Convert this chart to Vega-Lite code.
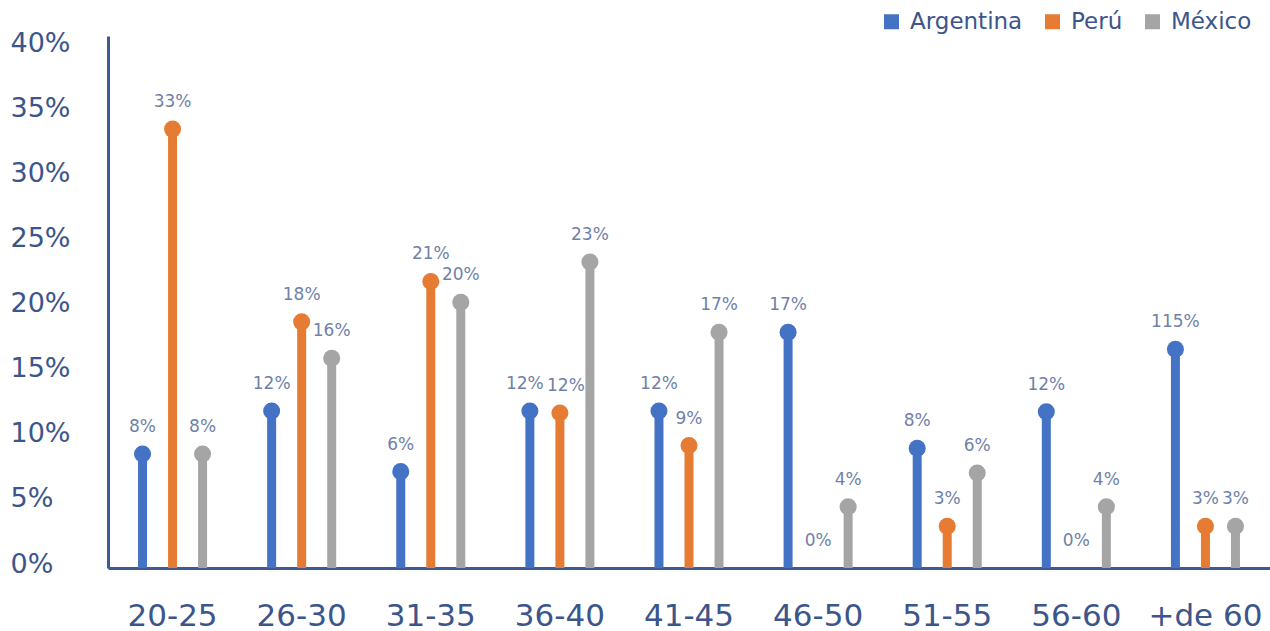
{
  "$schema": "https://vega.github.io/schema/vega-lite/v6.json",
  "autosize": "none",
  "width": 1162,
  "height": 532,
  "padding": {"left": 108, "top": 36, "right": 0, "bottom": 63},
  "background": "white",
  "data": {
    "values": [
      {"age": "20-25", "country": "Argentina", "value": 8.75, "label": "8%"},
      {"age": "20-25", "country": "Perú", "value": 33.7, "label": "33%"},
      {"age": "20-25", "country": "México", "value": 8.75, "label": "8%"},
      {"age": "26-30", "country": "Argentina", "value": 12.05, "label": "12%"},
      {"age": "26-30", "country": "Perú", "value": 18.9, "label": "18%"},
      {"age": "26-30", "country": "México", "value": 16.1, "label": "16%"},
      {"age": "31-35", "country": "Argentina", "value": 7.4, "label": "6%"},
      {"age": "31-35", "country": "Perú", "value": 22.0, "label": "21%"},
      {"age": "31-35", "country": "México", "value": 20.4, "label": "20%"},
      {"age": "36-40", "country": "Argentina", "value": 12.05, "label": "12%"},
      {"age": "36-40", "country": "Perú", "value": 11.9, "label": "12%"},
      {"age": "36-40", "country": "México", "value": 23.5, "label": "23%"},
      {"age": "41-45", "country": "Argentina", "value": 12.05, "label": "12%"},
      {"age": "41-45", "country": "Perú", "value": 9.4, "label": "9%"},
      {"age": "41-45", "country": "México", "value": 18.1, "label": "17%"},
      {"age": "46-50", "country": "Argentina", "value": 18.1, "label": "17%"},
      {"age": "46-50", "country": "Perú", "value": 0, "label": "0%"},
      {"age": "46-50", "country": "México", "value": 4.7, "label": "4%"},
      {"age": "51-55", "country": "Argentina", "value": 9.2, "label": "8%"},
      {"age": "51-55", "country": "Perú", "value": 3.2, "label": "3%"},
      {"age": "51-55", "country": "México", "value": 7.3, "label": "6%"},
      {"age": "56-60", "country": "Argentina", "value": 12.0, "label": "12%"},
      {"age": "56-60", "country": "Perú", "value": 0, "label": "0%"},
      {"age": "56-60", "country": "México", "value": 4.7, "label": "4%"},
      {"age": "+de 60", "country": "Argentina", "value": 16.8, "label": "115%"},
      {"age": "+de 60", "country": "Perú", "value": 3.2, "label": "3%"},
      {"age": "+de 60", "country": "México", "value": 3.2, "label": "3%"}
    ]
  },
  "encoding": {
    "x": {
      "field": "age", "type": "nominal",
      "sort": ["20-25","26-30","31-35","36-40","41-45","46-50","51-55","56-60","+de 60"],
      "scale": {"paddingInner": 0, "paddingOuter": 0},
      "axis": {
        "title": null, "labelAngle": 0, "ticks": false, "tickSize": 0,
        "domainColor": "#3D5A91", "domainWidth": 3,
        "labelFont": "DejaVu Sans", "labelFontSize": 31, "labelColor": "#3C558A",
        "labelBaseline": "middle", "labelPadding": 48
      }
    },
    "xOffset": {
      "field": "country", "type": "nominal",
      "sort": ["Argentina", "Perú", "México"],
      "scale": {"paddingInner": 0, "paddingOuter": 0.65}
    },
    "y": {
      "field": "value", "type": "quantitative",
      "scale": {"domain": [0, 40.85], "nice": false, "zero": true},
      "axis": {
        "title": null, "grid": false, "ticks": false, "tickSize": 0,
        "values": [0, 5, 10, 15, 20, 25, 30, 35, 40],
        "labelExpr": "datum.value + '%'",
        "domainColor": "#3D5A91", "domainWidth": 3,
        "labelFont": "DejaVu Sans", "labelFontSize": 27, "labelColor": "#3C558A",
        "labelAlign": "left", "labelPadding": 98, "labelBaseline": "middle",
        "labelOffset": -4, "labelBound": false
      }
    },
    "color": {
      "field": "country", "type": "nominal",
      "scale": {"domain": ["Argentina", "Perú", "México"], "range": ["#4472C4", "#E67C33", "#A5A5A5"]},
      "legend": {
        "title": null, "orient": "none", "direction": "horizontal",
        "legendX": 772, "legendY": -26,
        "symbolType": "square", "symbolSize": 225, "symbolStrokeWidth": 0, "symbolOpacity": 1,
        "labelFont": "DejaVu Sans", "labelFontSize": 23, "labelColor": "#3C558A",
        "labelOffset": 7, "columnPadding": 18
      }
    }
  },
  "layer": [
    {
      "mark": {"type": "rule", "strokeWidth": 9},
      "encoding": {"y2": {"datum": 0}}
    },
    {
      "transform": [{"filter": "datum.value > 0"}],
      "mark": {"type": "point", "filled": true, "opacity": 1, "size": 290, "shape": "circle"}
    },
    {
      "transform": [{"filter": "!(datum.age == '36-40' && datum.country != 'México')"}],
      "mark": {"type": "text", "dy": -27, "baseline": "middle", "font": "DejaVu Sans", "fontSize": 17, "color": "#6F81A8"},
      "encoding": {"text": {"field": "label"}, "color": {"value": "#6F81A8"}}
    },
    {
      "transform": [{"filter": "datum.age == '36-40' && datum.country == 'Argentina'"}],
      "mark": {"type": "text", "dy": -27, "dx": -5, "baseline": "middle", "font": "DejaVu Sans", "fontSize": 17, "color": "#6F81A8"},
      "encoding": {"text": {"field": "label"}, "color": {"value": "#6F81A8"}}
    },
    {
      "transform": [{"filter": "datum.age == '36-40' && datum.country == 'Perú'"}],
      "mark": {"type": "text", "dy": -27, "dx": 6, "baseline": "middle", "font": "DejaVu Sans", "fontSize": 17, "color": "#6F81A8"},
      "encoding": {"text": {"field": "label"}, "color": {"value": "#6F81A8"}}
    }
  ],
  "config": {"view": {"stroke": null}}
}
